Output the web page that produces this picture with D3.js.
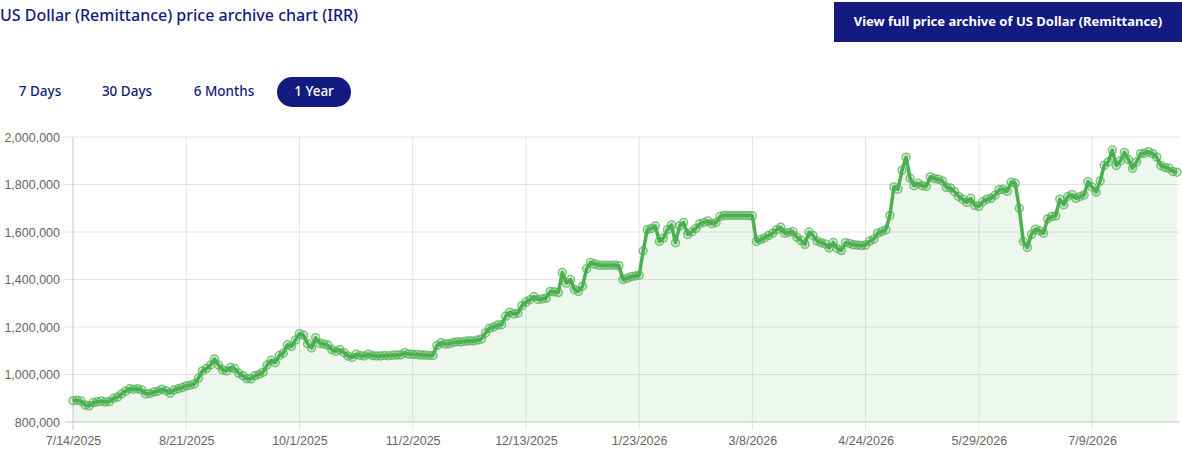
<!DOCTYPE html>
<html>
<head>
<meta charset="utf-8">
<script src="https://cdn.jsdelivr.net/npm/d3@7"></script>
<style>
  body { margin: 0; background: #fff; }
  svg { display: block; }
</style>
</head>
<body>
<div id="chart"></div>
<script>
// DATA: ONE VALUE PER TRADING DAY (IRR)
const tickLabels = ["7/14/2025", "8/21/2025", "10/1/2025", "11/2/2025", "12/13/2025",
  "1/23/2026", "3/8/2026", "4/24/2026", "5/29/2026", "7/9/2026"];
const tickEvery = 28; // a label is shown on every 28th point

const prices = [
  // 7/14/2025
  890000, 892000, 888000, 872000, 868000, 882000, 885000, 888000, 884000, 886000,
  900000, 905000, 918000, 930000, 940000, 938000, 940000, 935000, 918000, 920000,
  926000, 930000, 938000, 932000, 922000, 935000, 940000, 945000,
  // 8/21/2025
  952000, 955000, 960000, 985000, 1015000, 1025000, 1040000, 1065000, 1040000, 1020000,
  1015000, 1030000, 1025000, 1005000, 995000, 982000, 982000, 995000, 1000000, 1010000,
  1040000, 1060000, 1050000, 1080000, 1090000, 1125000, 1118000, 1145000,
  // 10/1/2025
  1172000, 1165000, 1130000, 1112000, 1155000, 1132000, 1128000, 1124000, 1105000, 1098000,
  1105000, 1092000, 1078000, 1072000, 1085000, 1080000, 1078000, 1085000, 1080000, 1078000,
  1078000, 1080000, 1079000, 1081000, 1082000, 1083000, 1092000, 1086000,
  // 11/2/2025
  1085000, 1084000, 1082000, 1082000, 1080000, 1080000, 1122000, 1134000, 1128000, 1130000,
  1135000, 1138000, 1137000, 1140000, 1142000, 1141000, 1145000, 1150000, 1175000, 1195000,
  1200000, 1208000, 1210000, 1245000, 1262000, 1255000, 1258000, 1290000,
  // 12/13/2025
  1305000, 1315000, 1328000, 1316000, 1318000, 1322000, 1350000, 1348000, 1345000, 1430000,
  1385000, 1400000, 1358000, 1350000, 1372000, 1445000, 1472000, 1465000, 1460000, 1460000,
  1460000, 1460000, 1460000, 1458000, 1400000, 1405000, 1412000, 1415000,
  // 1/23/2026
  1418000, 1520000, 1610000, 1615000, 1625000, 1560000, 1575000, 1610000, 1630000, 1555000,
  1625000, 1640000, 1590000, 1600000, 1615000, 1635000, 1640000, 1646000, 1635000, 1640000,
  1665000, 1670000, 1670000, 1670000, 1670000, 1670000, 1670000, 1670000,
  // 3/8/2026
  1668000, 1560000, 1568000, 1575000, 1585000, 1595000, 1610000, 1620000, 1595000, 1598000,
  1602000, 1578000, 1565000, 1548000, 1600000, 1585000, 1562000, 1555000, 1550000, 1533000,
  1556000, 1530000, 1522000, 1555000, 1552000, 1546000, 1545000, 1543000,
  // 4/24/2026
  1545000, 1562000, 1570000, 1595000, 1602000, 1610000, 1670000, 1790000, 1780000, 1860000,
  1915000, 1826000, 1795000, 1805000, 1795000, 1792000, 1832000, 1825000, 1822000, 1815000,
  1788000, 1785000, 1770000, 1750000, 1738000, 1725000, 1742000, 1712000,
  // 5/29/2026
  1708000, 1728000, 1738000, 1742000, 1755000, 1778000, 1780000, 1772000, 1810000, 1805000,
  1700000, 1560000, 1535000, 1590000, 1612000, 1605000, 1595000, 1655000, 1665000, 1668000,
  1738000, 1715000, 1750000, 1758000, 1742000, 1750000, 1756000, 1812000,
  // 7/9/2026
  1790000, 1768000, 1815000, 1880000, 1895000, 1945000, 1880000, 1900000, 1935000, 1905000,
  1868000, 1895000, 1930000, 1932000, 1938000, 1930000, 1915000, 1880000, 1872000, 1868000,
  1855000, 1852000
];

const yTicks = [800000, 1000000, 1200000, 1400000, 1600000, 1800000, 2000000];

// SET DIMENSIONS
const W = 1182, H = 452;
const plot = { left: 73, right: 1177, top: 137, bottom: 422 };
const navy = "#131b80";
const green = "#4caf50";

const svg = d3.select("#chart")
  .append("svg")
  .attr("width", W)
  .attr("height", H);

// HEADER: TITLE AND LINK BUTTON
svg.append("text")
  .attr("x", 0)
  .attr("y", 21)
  .style("font-family", "'Noto Sans', sans-serif")
  .style("font-size", "16px")
  .style("font-weight", 500)
  .style("fill", navy)
  .text("US Dollar (Remittance) price archive chart (IRR)");

svg.append("rect")
  .attr("x", 834).attr("y", 2)
  .attr("width", 348).attr("height", 40)
  .style("fill", navy);

svg.append("text")
  .attr("x", 1008).attr("y", 26)
  .attr("text-anchor", "middle")
  .style("font-family", "'Noto Sans', sans-serif")
  .style("font-size", "13px")
  .style("font-weight", "bold")
  .style("fill", "#fff")
  .text("View full price archive of US Dollar (Remittance)");

// RANGE TABS
const tabs = [
  { label: "7 Days", cx: 40 },
  { label: "30 Days", cx: 127 },
  { label: "6 Months", cx: 224 },
  { label: "1 Year", cx: 314, active: true }
];

svg.append("rect")
  .attr("x", 277).attr("y", 77)
  .attr("width", 74).attr("height", 30)
  .attr("rx", 15)
  .style("fill", navy);

svg.selectAll(".tab")
  .data(tabs)
  .join("text")
  .attr("class", "tab")
  .attr("x", d => d.cx)
  .attr("y", 96)
  .attr("text-anchor", "middle")
  .style("font-family", "'Noto Sans', sans-serif")
  .style("font-size", "13.5px")
  .style("font-weight", 500)
  .style("fill", d => d.active ? "#fff" : navy)
  .text(d => d.label);

// SCALES
const x = d3.scaleLinear()
  .domain([0, prices.length - 1])
  .range([plot.left, plot.right]);

const y = d3.scaleLinear()
  .domain([800000, 2000000])
  .range([plot.bottom, plot.top]);

const tickIdx = tickLabels.map((d, i) => i * tickEvery);

// GRID LINES
svg.append("g")
  .selectAll("line")
  .data(yTicks)
  .join("line")
  .attr("x1", plot.left - 8).attr("x2", 1180)
  .attr("y1", d => y(d)).attr("y2", d => y(d))
  .style("stroke", (d, i) => i === 0 ? "#c8c8c8" : "#e4e4e4")
  .style("stroke-width", 1);

svg.append("g")
  .selectAll("line")
  .data(tickIdx)
  .join("line")
  .attr("x1", d => x(d)).attr("x2", d => x(d))
  .attr("y1", plot.top).attr("y2", plot.bottom + 8)
  .style("stroke", (d, i) => i === 0 ? "#c8c8c8" : "#e4e4e4")
  .style("stroke-width", 1);

// AXES
const yAxis = svg.append("g")
  .attr("transform", `translate(${plot.left - 10},0)`)
  .call(d3.axisLeft(y).tickValues(yTicks).tickSize(0).tickFormat(d3.format(",")));
yAxis.select(".domain").remove();
yAxis.selectAll("text")
  .style("font-family", "'Liberation Sans', Arial, sans-serif")
  .style("font-size", "12.5px")
  .style("fill", "#666");

const xAxis = svg.append("g")
  .attr("transform", `translate(0,${plot.bottom + 11})`)
  .call(d3.axisBottom(x).tickValues(tickIdx).tickSize(0).tickFormat((d, i) => tickLabels[i]));
xAxis.select(".domain").remove();
xAxis.selectAll("text")
  .style("font-family", "'Liberation Sans', Arial, sans-serif")
  .style("font-size", "12.5px")
  .style("fill", "#666");

// AREA AND LINE
const area = d3.area()
  .x((d, i) => x(i))
  .y0(plot.bottom)
  .y1(d => y(d));

const line = d3.line()
  .x((d, i) => x(i))
  .y(d => y(d));

svg.append("path")
  .datum(prices)
  .attr("d", area)
  .style("fill", "rgba(76,175,80,0.1)");

svg.append("path")
  .datum(prices)
  .attr("d", line)
  .style("fill", "none")
  .style("stroke", green)
  .style("stroke-width", 3.5)
  .style("stroke-linejoin", "round");

// POINT MARKERS
svg.append("g")
  .selectAll("circle")
  .data(prices)
  .join("circle")
  .attr("cx", (d, i) => x(i))
  .attr("cy", d => y(d))
  .attr("r", 4)
  .style("fill", "rgba(76,175,80,0.2)")
  .style("stroke", "rgba(76,175,80,0.7)")
  .style("stroke-width", 1.5);
</script>
</body>
</html>
